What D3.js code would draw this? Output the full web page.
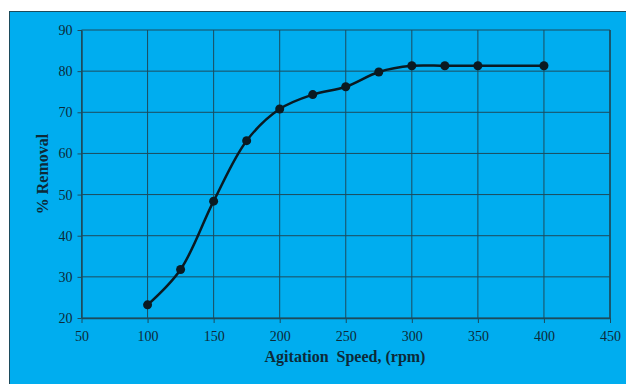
<!DOCTYPE html>
<html>
<head>
<meta charset="utf-8">
<script src="https://cdn.jsdelivr.net/npm/d3@7"></script>
<style>
  body { margin: 0; background: #fff; }
  svg text { font-family: "Liberation Serif", "Times New Roman", serif; fill: #0d2a38; }
</style>
</head>
<body>
<div id="chart"></div>
<script>
// agitation speed (rpm) and % removal
const speeds = [100, 125, 150, 175, 200, 225, 250, 275, 300, 325, 350, 400];
const removal = [23.2, 31.8, 48.4, 63.1, 70.8, 74.3, 76.2, 79.8, 81.3, 81.3, 81.3, 81.3];
const xTicks = [50, 100, 150, 200, 250, 300, 350, 400, 450];
const yTicks = [20, 30, 40, 50, 60, 70, 80, 90];

const width = 626, height = 384;
const margin = { top: 30, right: 16, bottom: 66, left: 81.5 };
const gridColor = "#1c4b5c";

const svg = d3.select("#chart").append("svg")
  .attr("width", width)
  .attr("height", height);

// blue panel
svg.append("rect")
  .attr("x", 9.5).attr("y", 11.5)
  .attr("width", width).attr("height", height)
  .attr("fill", "#00adef")
  .attr("stroke", "#1c4b5c")
  .attr("stroke-width", 1);

const x = d3.scaleLinear().domain([50, 450]).range([margin.left, width - margin.right]);
const y = d3.scaleLinear().domain([20, 90]).range([height - margin.bottom, margin.top]);

// gridlines
svg.append("g")
  .selectAll("line")
  .data(xTicks)
  .enter().append("line")
  .attr("x1", d => x(d)).attr("x2", d => x(d))
  .attr("y1", y(20)).attr("y2", y(90))
  .attr("stroke", gridColor).attr("stroke-width", 1);

svg.append("g")
  .selectAll("line")
  .data(yTicks)
  .enter().append("line")
  .attr("x1", x(50)).attr("x2", x(450))
  .attr("y1", d => y(d)).attr("y2", d => y(d))
  .attr("stroke", gridColor).attr("stroke-width", 1);

// axes
const xAxis = svg.append("g")
  .attr("transform", "translate(0," + y(20) + ")")
  .call(d3.axisBottom(x).tickValues(xTicks).tickSize(5).tickSizeOuter(0));
const yAxis = svg.append("g")
  .attr("transform", "translate(" + x(50) + ",0)")
  .call(d3.axisLeft(y).tickValues(yTicks).tickSize(4).tickSizeOuter(0));

[xAxis, yAxis].forEach(g => {
  g.attr("font-size", 14).attr("font-family", "Liberation Serif, serif");
  g.select(".domain").attr("stroke", gridColor).attr("stroke-width", 1.5);
  g.selectAll(".tick line").attr("stroke", gridColor);
  g.selectAll(".tick text").style("fill", "#0d2a38");
});
xAxis.selectAll(".tick text").attr("dy", "1.05em");
yAxis.selectAll(".tick text").attr("x", -9);

// right border of plot area
svg.append("line")
  .attr("x1", x(450)).attr("x2", x(450))
  .attr("y1", y(20)).attr("y2", y(90))
  .attr("stroke", gridColor).attr("stroke-width", 1.5);

// data line
const pts = speeds.map((s, i) => [s, removal[i]]);
const line = d3.line()
  .x(d => x(d[0]))
  .y(d => y(d[1]))
  .curve(d3.curveCatmullRom.alpha(0.5));

svg.append("path")
  .datum(pts)
  .attr("d", line)
  .attr("fill", "none")
  .attr("stroke", "#0a1a22")
  .attr("stroke-width", 2.5);

svg.append("g")
  .selectAll("circle")
  .data(pts)
  .enter().append("circle")
  .attr("cx", d => x(d[0]))
  .attr("cy", d => y(d[1]))
  .attr("r", 4.5)
  .attr("fill", "#0a1a22");

// axis titles
svg.append("text")
  .attr("x", 345).attr("y", 362)
  .attr("text-anchor", "middle")
  .attr("font-size", 16).attr("font-weight", "bold")
  .attr("xml:space", "preserve")
  .text("Agitation  Speed, (rpm)");

svg.append("text")
  .attr("transform", "translate(48," + ((y(20) + y(90)) / 2) + ") rotate(-90)")
  .attr("text-anchor", "middle")
  .attr("font-size", 16).attr("font-weight", "bold")
  .text("% Removal");
</script>
</body>
</html>
